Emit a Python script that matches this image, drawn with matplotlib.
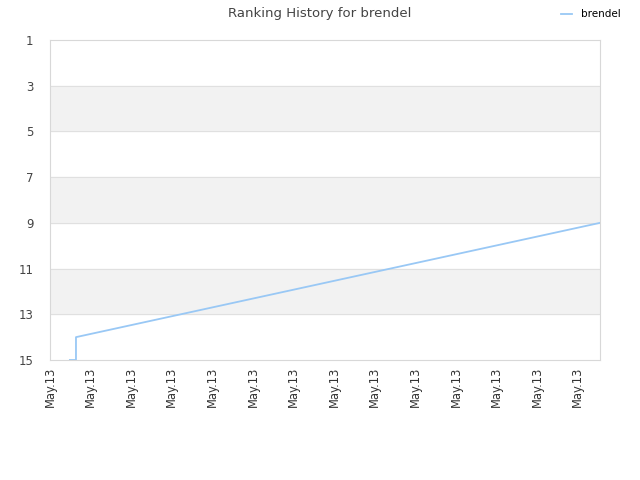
import matplotlib.pyplot as plt

# x positions in "tick units" (all ticks labelled May.13)
x_vals = [0.49, 0.64, 0.64, 13.55]
ranks = [15, 15, 14, 9]
tick_pos = list(range(14))
tick_labels = ["May.13"] * 14
player = "brendel"

fig = plt.figure(figsize=(6.4, 4.8), dpi=100)
ax = fig.add_axes([50/640, 120/480, 550/640, 320/480])

# alternating bands
for lo in range(1, 15, 2):
    if (lo // 2) % 2 == 1:
        ax.axhspan(lo, lo + 2, color="#f2f2f2", zorder=0)
for y in range(3, 15, 2):
    ax.axhline(y, color="#e0e0e0", lw=0.8, zorder=0.5)

ax.plot(x_vals, ranks, color="#99c8f5", lw=1.3, label=player, zorder=2)

ax.set_xlim(0, 13.55)
ax.set_ylim(15, 1)
ax.set_yticks(range(1, 16, 2))
ax.set_xticks(tick_pos)
ax.set_xticklabels(tick_labels, rotation=90, fontsize=8.3, color="#333333")
ax.tick_params(axis="y", labelsize=8.5, colors="#444444", length=0, pad=12)
ax.tick_params(axis="x", length=0, pad=5)
for s in ax.spines.values():
    s.set_color("#d8d8d8")

fig.suptitle("Ranking History for brendel", y=0.985, fontsize=9.5, color="#444444")
fig.legend(loc="upper right", bbox_to_anchor=(0.985, 1.0), frameon=False,
           fontsize=7.5, handlelength=1.0, handletextpad=0.9)

fig.savefig("out.png", dpi=100)
